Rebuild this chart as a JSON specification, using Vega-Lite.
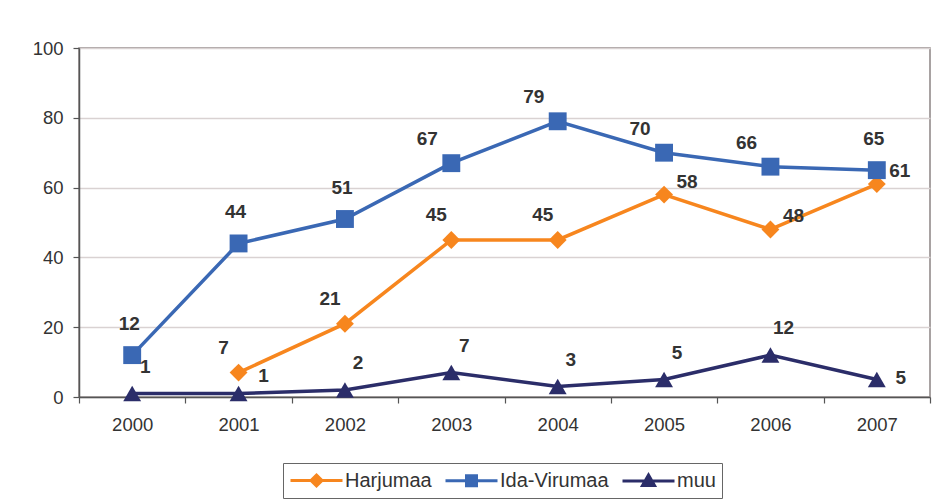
{
  "$schema": "https://vega.github.io/schema/vega-lite/v6.json",
  "autosize": {"type": "none"},
  "padding": {"left": 79, "top": 48, "right": 7, "bottom": 102},
  "width": 851,
  "height": 349,
  "background": "white",
  "config": {
    "font": "Liberation Sans",
    "view": {"stroke": "#8C8484", "strokeWidth": 1.5},
    "axis": {"labelFont": "Liberation Sans", "labelFontSize": 18.5, "labelColor": "#333333", "domainColor": "#555555", "domainWidth": 1.5, "tickColor": "#555555", "tickWidth": 1.2, "tickSize": 6}
  },
  "data": {
    "values": [
      {"year": "2001", "series": "Harjumaa", "value": 7},
      {"year": "2002", "series": "Harjumaa", "value": 21},
      {"year": "2003", "series": "Harjumaa", "value": 45},
      {"year": "2004", "series": "Harjumaa", "value": 45},
      {"year": "2005", "series": "Harjumaa", "value": 58},
      {"year": "2006", "series": "Harjumaa", "value": 48},
      {"year": "2007", "series": "Harjumaa", "value": 61},
      {"year": "2000", "series": "Ida-Virumaa", "value": 12},
      {"year": "2001", "series": "Ida-Virumaa", "value": 44},
      {"year": "2002", "series": "Ida-Virumaa", "value": 51},
      {"year": "2003", "series": "Ida-Virumaa", "value": 67},
      {"year": "2004", "series": "Ida-Virumaa", "value": 79},
      {"year": "2005", "series": "Ida-Virumaa", "value": 70},
      {"year": "2006", "series": "Ida-Virumaa", "value": 66},
      {"year": "2007", "series": "Ida-Virumaa", "value": 65},
      {"year": "2000", "series": "muu", "value": 1},
      {"year": "2001", "series": "muu", "value": 1},
      {"year": "2002", "series": "muu", "value": 2},
      {"year": "2003", "series": "muu", "value": 7},
      {"year": "2004", "series": "muu", "value": 3},
      {"year": "2005", "series": "muu", "value": 5},
      {"year": "2006", "series": "muu", "value": 12},
      {"year": "2007", "series": "muu", "value": 5}
    ]
  },
  "encoding": {
    "x": {
      "field": "year", "type": "ordinal", "bandPosition": 0.5,
      "scale": {"type": "band", "paddingInner": 0, "paddingOuter": 0},
      "axis": {"title": null, "labelAngle": 0, "tickBand": "extent", "labelPadding": 12, "grid": false}
    },
    "y": {
      "field": "value", "type": "quantitative",
      "scale": {"domain": [0, 100], "nice": false},
      "axis": {"title": null, "values": [0, 20, 40, 60, 80, 100], "labelPadding": 10, "grid": true, "gridColor": "#D9D2D2", "gridWidth": 1.5}
    }
  },
  "resolve": {"scale": {"shape": "independent"}, "legend": {"color": "independent", "shape": "independent"}},
  "layer": [
    {
      "mark": {"type": "line", "strokeWidth": 3.5},
      "encoding": {
        "color": {"field": "series", "type": "nominal", "legend": null,
          "scale": {"domain": ["Harjumaa", "Ida-Virumaa", "muu"], "range": ["#F7861E", "#3A68B4", "#2B2D69"]}}
      }
    },
    {
      "mark": {"type": "point", "filled": true, "opacity": 1, "size": 320},
      "encoding": {
        "color": {"field": "series", "type": "nominal", "legend": null,
          "scale": {"domain": ["Harjumaa", "Ida-Virumaa", "muu"], "range": ["#F7861E", "#3A68B4", "#2B2D69"]}},
        "shape": {"field": "series", "type": "nominal", "legend": null,
          "scale": {"domain": ["Harjumaa", "Ida-Virumaa", "muu"], "range": ["diamond", "square", "triangle-up"]}}
      }
    },
    {
      "mark": {"type": "point", "filled": false, "opacity": 0, "strokeWidth": 3},
      "encoding": {
        "color": {"field": "series", "type": "nominal",
          "scale": {"domain": ["Harjumaa", "Ida-Virumaa", "muu"], "range": ["#F7861E", "#3A68B4", "#2B2D69"]},
          "legend": {
            "title": null, "orient": "none", "legendX": 204, "legendY": 415, "direction": "horizontal",
            "strokeColor": "#666666", "padding": 6, "symbolSize": 400, "symbolStrokeWidth": 3,
            "labelFont": "Liberation Sans", "labelFontSize": 20, "labelColor": "#333333", "labelOffset": 33, "columnPadding": 7,
            "symbolOpacity": 1
          }
        },
        "shape": {"field": "series", "type": "nominal", "legend": null,
          "scale": {"domain": ["Harjumaa", "Ida-Virumaa", "muu"], "range": [
            "M-1,0H4.2M1.6,-0.55L2.15,0L1.6,0.55L1.05,0ZM1.6,-0.25L1.85,0L1.6,0.25L1.35,0ZM1.6,-0.4V0.4",
            "M-1,0H4.2M1.1,-0.5H2.1V0.5H1.1ZM1.35,-0.25H1.85V0.25H1.35ZM1.6,-0.4V0.4",
            "M-1,0H4.2M1.6,-0.6L2.2,0.45H1.0ZM1.6,-0.2L1.85,0.25H1.35ZM1.6,-0.4V0.4"
          ]}}
      }
    },
    {
      "transform": [{"filter": "datum.series === 'Harjumaa' && datum.year <= '2004'"}],
      "mark": {"type": "text", "dx": -15, "dy": -25, "fontSize": 19, "fontWeight": "bold", "color": "#333333", "baseline": "middle"},
      "encoding": {"text": {"field": "value", "type": "quantitative"}}
    },
    {
      "transform": [{"filter": "datum.series === 'Harjumaa' && datum.year >= '2005'"}],
      "mark": {"type": "text", "dx": 23, "dy": -13, "fontSize": 19, "fontWeight": "bold", "color": "#333333", "baseline": "middle"},
      "encoding": {"text": {"field": "value", "type": "quantitative"}}
    },
    {
      "transform": [{"filter": "datum.series === 'Ida-Virumaa' && (datum.year <= '2002' || datum.year === '2007')"}],
      "mark": {"type": "text", "dx": -3, "dy": -31, "fontSize": 19, "fontWeight": "bold", "color": "#333333", "baseline": "middle"},
      "encoding": {"text": {"field": "value", "type": "quantitative"}}
    },
    {
      "transform": [{"filter": "datum.series === 'Ida-Virumaa' && datum.year >= '2003' && datum.year <= '2006'"}],
      "mark": {"type": "text", "dx": -24, "dy": -24, "fontSize": 19, "fontWeight": "bold", "color": "#333333", "baseline": "middle"},
      "encoding": {"text": {"field": "value", "type": "quantitative"}}
    },
    {
      "transform": [{"filter": "datum.series === 'muu' && datum.year !== '2001' && datum.year !== '2007'"}],
      "mark": {"type": "text", "dx": 13, "dy": -27, "fontSize": 19, "fontWeight": "bold", "color": "#333333", "baseline": "middle"},
      "encoding": {"text": {"field": "value", "type": "quantitative"}}
    },
    {
      "transform": [{"filter": "datum.series === 'muu' && datum.year === '2001'"}],
      "mark": {"type": "text", "dx": 25, "dy": -18, "fontSize": 19, "fontWeight": "bold", "color": "#333333", "baseline": "middle"},
      "encoding": {"text": {"field": "value", "type": "quantitative"}}
    },
    {
      "transform": [{"filter": "datum.series === 'muu' && datum.year === '2007'"}],
      "mark": {"type": "text", "dx": 24, "dy": -2, "fontSize": 19, "fontWeight": "bold", "color": "#333333", "baseline": "middle"},
      "encoding": {"text": {"field": "value", "type": "quantitative"}}
    }
  ]
}
